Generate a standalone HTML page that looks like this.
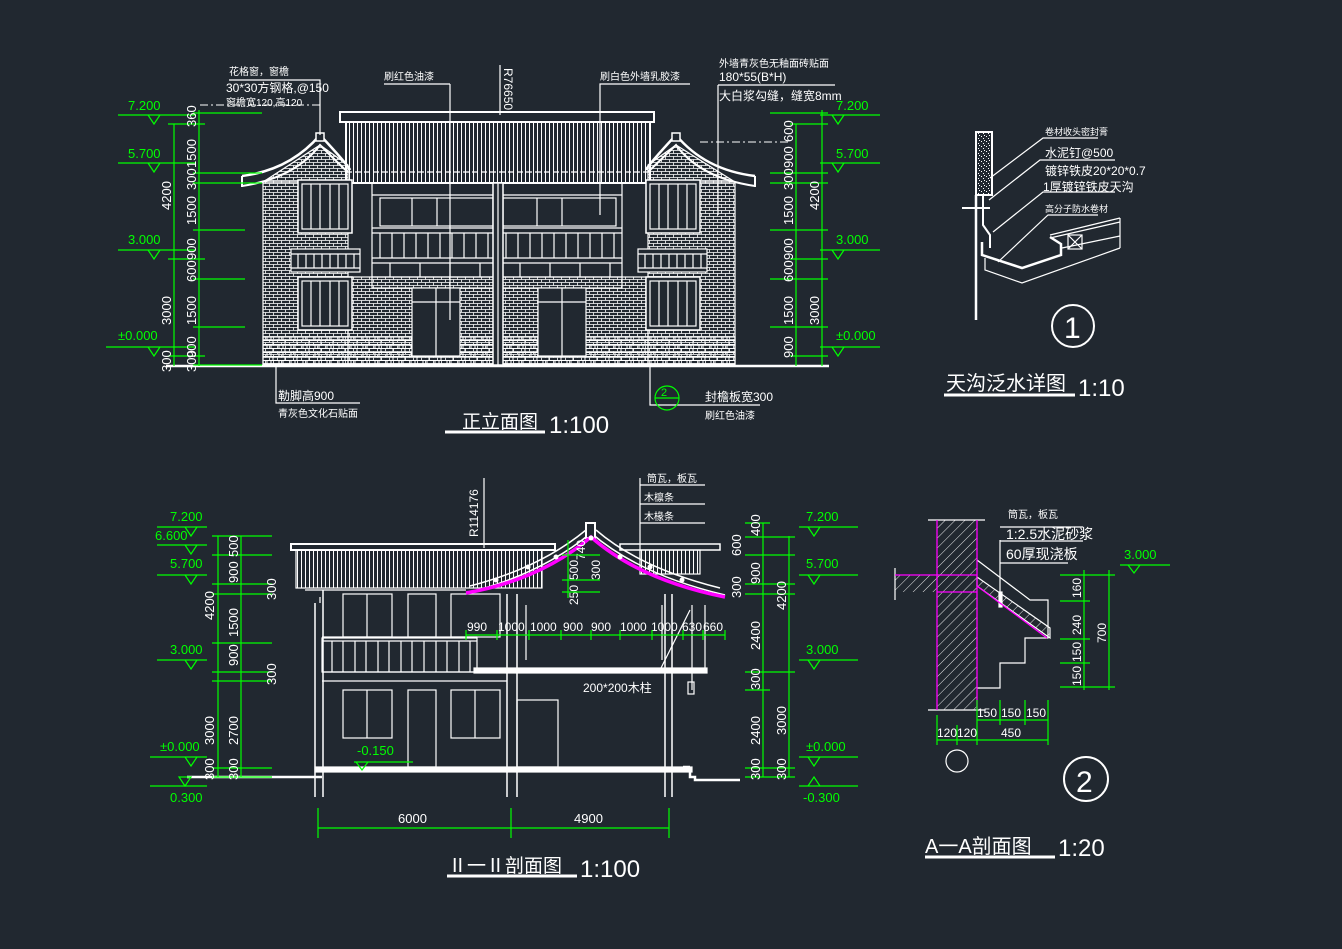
<!DOCTYPE html>
<html><head><meta charset="utf-8"><style>
html,body{margin:0;padding:0;background:#212830;}
svg{display:block}
text{font-family:"Liberation Sans","Noto Sans CJK SC",sans-serif;}
</style></head><body>
<svg width="1342" height="949" viewBox="0 0 1342 949" xmlns="http://www.w3.org/2000/svg">
<defs>
<pattern id="brick" width="8" height="6" patternUnits="userSpaceOnUse">
<path d="M0 0.5H8M0 3.5H8M1.5 0.5V3.5M5.5 3.5V6.5" stroke="#fff" stroke-width="0.8" fill="none"/>
</pattern>
<pattern id="stone" width="12" height="8" patternUnits="userSpaceOnUse">
<path d="M0 0.5H12M0 4.5H12M3 0.5V4.5M9 4.5V8.5M7 0.5V4.5" stroke="#fff" stroke-width="1" fill="none"/>
</pattern>
<pattern id="vstrip" width="4" height="10" patternUnits="userSpaceOnUse">
<path d="M1.5 0V10" stroke="#fff" stroke-width="1"/>
</pattern>
<pattern id="hatch" width="7" height="7" patternUnits="userSpaceOnUse" patternTransform="rotate(45)">
<path d="M0 0V7" stroke="#fff" stroke-width="0.9"/>
</pattern>
<pattern id="speck" width="5" height="5" patternUnits="userSpaceOnUse">
<rect x="1" y="1" width="1" height="1" fill="#fff"/><rect x="3" y="3" width="1" height="1" fill="#fff"/><rect x="4" y="0" width="1" height="1" fill="#fff"/>
</pattern>
</defs>
<rect width="1342" height="949" fill="#212830"/>

<!-- ================= FRONT ELEVATION ================= -->
<g stroke="#fff" fill="none" stroke-width="1.2">
<!-- walls -->
<rect x="263" y="182" width="85" height="183" fill="url(#brick)"/>
<rect x="648" y="182" width="87" height="183" fill="url(#brick)"/>
<polygon points="263,182 320,145 348,165 348,182" fill="url(#brick)"/>
<polygon points="648,165 676,145 735,182 648,182" fill="url(#brick)"/>
<rect x="348" y="277" width="300" height="88" fill="url(#brick)"/>
<rect x="263" y="337" width="472" height="27" fill="url(#stone)"/>
<!-- gable roofs -->
<path d="M242,176 Q290,170 320,135 Q348,165 350,170" stroke-width="2.5"/>
<path d="M242,186 Q295,178 320,145 Q345,170 348,172" stroke-width="2"/>
<path d="M242,176 V187" stroke-width="2"/>
<path d="M755,176 Q705,170 676,135 Q648,165 646,170" stroke-width="2.5"/>
<path d="M755,186 Q700,178 676,145 Q650,170 648,172" stroke-width="2"/>
<path d="M755,176 V187" stroke-width="2"/>
<rect x="316" y="133" width="8" height="8" fill="#212830" stroke-width="1.5"/>
<rect x="672" y="133" width="8" height="8" fill="#212830" stroke-width="1.5"/>
<!-- central block roof -->
<rect x="340" y="112" width="314" height="10" stroke-width="2"/>
<rect x="346" y="122" width="304" height="61" fill="url(#vstrip)" stroke-width="2"/>
<path d="M346,172 H650" stroke-dasharray="6 3"/>
<!-- central facade -->
<rect x="372" y="183" width="250" height="105"/>
<path d="M372,195 H622 M372,228 H622 M372,233 H622 M372,258 H622 M372,263 H622 M372,277 H622" />
<rect x="380" y="198" width="113" height="28"/><rect x="503" y="198" width="113" height="28"/>
<path d="M412,198 V226 M437,198 V226 M537,198 V226 M562,198 V226"/>
<path d="M380,233 V258 M392,233 V258 M404,233 V258 M416,233 V258 M428,233 V258 M440,233 V258 M452,233 V258 M464,233 V258 M476,233 V258 M488,233 V258 M506,233 V258 M518,233 V258 M530,233 V258 M542,233 V258 M554,233 V258 M566,233 V258 M578,233 V258 M590,233 V258 M602,233 V258 M614,233 V258"/>
<path d="M390,263 V277 M420,263 V277 M450,263 V277 M480,263 V277 M520,263 V277 M550,263 V277 M580,263 V277 M610,263 V277"/>
<rect x="493" y="183" width="10" height="182" fill="#212830" stroke-width="1.5"/>
<path d="M498,183 V365"/>
<!-- doors -->
<rect x="412" y="288" width="48" height="68" fill="#212830"/><path d="M436,288 V356 M412,302 H460"/>
<rect x="538" y="288" width="48" height="68" fill="#212830"/><path d="M562,288 V356 M538,302 H586"/>
<!-- side windows -->
<rect x="298" y="180" width="54" height="53" fill="#212830" stroke-width="1.5"/><rect x="302" y="184" width="46" height="45"/>
<path d="M311,184 V229 M320,184 V229 M330,184 V229 M339,184 V229"/>
<rect x="298" y="277" width="54" height="53" fill="#212830" stroke-width="1.5"/><rect x="302" y="281" width="46" height="45"/>
<path d="M311,281 V326 M320,281 V326 M330,281 V326 M339,281 V326"/>
<rect x="291" y="249" width="69" height="23" fill="#212830"/><path d="M291,254 H360 M291,268 H360 M298,254 V268 M306,254 V268 M314,254 V268 M322,254 V268 M330,254 V268 M338,254 V268 M346,254 V268 M354,254 V268"/>
<rect x="646" y="180" width="54" height="53" fill="#212830" stroke-width="1.5"/><rect x="650" y="184" width="46" height="45"/>
<path d="M659,184 V229 M668,184 V229 M678,184 V229 M687,184 V229"/>
<rect x="646" y="277" width="54" height="53" fill="#212830" stroke-width="1.5"/><rect x="650" y="281" width="46" height="45"/>
<path d="M659,281 V326 M668,281 V326 M678,281 V326 M687,281 V326"/>
<rect x="638" y="249" width="69" height="23" fill="#212830"/><path d="M638,254 H707 M638,268 H707 M645,254 V268 M653,254 V268 M661,254 V268 M669,254 V268 M677,254 V268 M685,254 V268 M693,254 V268 M701,254 V268"/>
<!-- ground -->
<path d="M166,366 H829" stroke-width="2.5"/>
<!-- leaders -->
<path d="M229,80 H320 V135 M450,84 H384 M450,84 V320 M500,65 V115 M690,84 H600 V215 M718,85 H835 M718,85 V215 M276,366 V403 H360 M650,366 V405 H760"/>
<path d="M200,105 H320" stroke-dasharray="8 3 2 3" stroke-width="1"/>
<path d="M700,142 H790" stroke-dasharray="8 3 2 3" stroke-width="1"/>
<path d="M445,432 H545" stroke-width="3"/>
</g>
<g fill="#fff" font-size="10">
<text x="229" y="75">花格窗，窗檐</text>
<text x="226" y="92" font-size="12">30*30方钢格,@150</text>
<text x="226" y="106">窗檐宽120,高120</text>
<text x="384" y="80">刷红色油漆</text>
<text x="600" y="80">刷白色外墙乳胶漆</text>
<text x="719" y="67">外墙青灰色无釉面砖贴面</text>
<text x="719" y="81" font-size="12">180*55(B*H)</text>
<text x="719" y="100" font-size="12">大白浆勾缝，缝宽8mm</text>
<text transform="translate(504,68) rotate(90)" font-size="12">R76650</text>
<text x="278" y="400" font-size="12">勒脚高900</text>
<text x="278" y="417">青灰色文化石贴面</text>
<text x="705" y="401" font-size="12">封檐板宽300</text>
<text x="705" y="419">刷红色油漆</text>
<text x="462" y="428" font-size="19">正立面图</text>
<text x="549" y="433" font-size="24">1:100</text>
</g>
<!-- front elevation dims (green) -->
<g stroke="#00ff00" fill="none" stroke-width="1.2">
<path d="M174,124 V366 M199,110 V366 M796,124 V366 M822,110 V366"/>
<path d="M168,124 H205 M168,259 H205 M168,356 H205 M193,113 H262 M193,173 H262 M193,183 H262 M193,230 H245 M193,279 H245 M193,327 H245 M193,365 H262"/>
<path d="M790,124 H828 M790,259 H828 M790,356 H828 M770,113 H828 M770,173 H828 M770,183 H828 M770,230 H828 M770,279 H828 M770,327 H828"/>
<path d="M118,115 H196 M148,115 l6,9 l6,-9 M118,163 H196 M148,163 l6,9 l6,-9 M118,250 H196 M148,250 l6,9 l6,-9 M106,347 H196 M148,347 l6,9 l6,-9"/>
<path d="M820,115 H880 M832,115 l6,9 l6,-9 M820,163 H880 M832,163 l6,9 l6,-9 M820,250 H880 M832,250 l6,9 l6,-9 M820,347 H880 M832,347 l6,9 l6,-9"/>
<circle cx="667" cy="398" r="12"/><path d="M655,398 H679"/>
</g>
<g fill="#00ff00" font-size="13">
<text x="128" y="110">7.200</text><text x="128" y="158">5.700</text><text x="128" y="244">3.000</text><text x="118" y="340">±0.000</text>
<text x="836" y="110">7.200</text><text x="836" y="158">5.700</text><text x="836" y="244">3.000</text><text x="836" y="340">±0.000</text>
<text x="661" y="396" font-size="11">2</text>
</g>
<g fill="#fff" font-size="13">
<text transform="translate(196,127) rotate(-90)">360</text>
<text transform="translate(196,168) rotate(-90)">1500</text>
<text transform="translate(196,190) rotate(-90)">300</text>
<text transform="translate(196,225) rotate(-90)">1500</text>
<text transform="translate(196,260) rotate(-90)">900</text>
<text transform="translate(196,282) rotate(-90)">600</text>
<text transform="translate(196,325) rotate(-90)">1500</text>
<text transform="translate(196,358) rotate(-90)">900</text>
<text transform="translate(196,372) rotate(-90)">300</text>
<text transform="translate(171,210) rotate(-90)">4200</text>
<text transform="translate(171,325) rotate(-90)">3000</text>
<text transform="translate(171,372) rotate(-90)">300</text>
<text transform="translate(793,142) rotate(-90)">600</text>
<text transform="translate(793,168) rotate(-90)">900</text>
<text transform="translate(793,190) rotate(-90)">300</text>
<text transform="translate(793,225) rotate(-90)">1500</text>
<text transform="translate(793,260) rotate(-90)">900</text>
<text transform="translate(793,282) rotate(-90)">600</text>
<text transform="translate(793,325) rotate(-90)">1500</text>
<text transform="translate(793,358) rotate(-90)">900</text>
<text transform="translate(819,210) rotate(-90)">4200</text>
<text transform="translate(819,325) rotate(-90)">3000</text>
</g>

<!-- ================= SECTION II-II ================= -->
<g stroke="#fff" fill="none" stroke-width="1.2">
<rect x="291" y="544" width="264" height="6" stroke-width="2"/>
<rect x="296" y="550" width="246" height="38" fill="url(#vstrip)"/>
<rect x="620" y="544" width="100" height="6" stroke-width="1.5"/>
<rect x="640" y="550" width="60" height="24" fill="url(#vstrip)"/>
<path d="M466,593 Q540,575 591,533 Q640,575 725,595 M470,586 Q540,568 586,530 M596,530 Q640,568 720,588" stroke-width="1.5"/>
<rect x="586" y="523" width="9" height="15" stroke-width="2" fill="#212830"/>
<!-- walls -->
<path d="M315,603 V797 M323,590 V797 M507,594 V797 M517,594 V797 M665,594 V797 M672,594 V797" stroke-width="1.5"/>
<path d="M305,590 H466 M322,637 H477 M322,672 H477 M322,681 H507"/>
<rect x="322" y="638" width="155" height="34"/>
<path d="M322,641 H477 M332,641 V672 M343,641 V672 M355,641 V672 M366,641 V672 M378,641 V672 M389,641 V672 M401,641 V672 M412,641 V672 M424,641 V672 M436,641 V672 M447,641 V672 M459,641 V672 M470,641 V672"/>
<rect x="343" y="594" width="49" height="43"/><path d="M367,594 V637"/>
<rect x="408" y="594" width="28" height="43"/>
<rect x="451" y="594" width="49" height="43"/>
<rect x="343" y="690" width="49" height="48"/><path d="M367,690 V738"/>
<rect x="408" y="690" width="28" height="77"/>
<rect x="451" y="690" width="49" height="48"/><path d="M475,690 V738"/>
<rect x="517" y="700" width="41" height="67"/>
<rect x="474" y="668" width="233" height="5" fill="#fff"/>
<rect x="315" y="767" width="377" height="5" fill="#fff"/>
<path d="M187,777 H322 M690,772 V777 H695 V780 H740 M683,767 H690" stroke-width="2.5"/>
<path d="M320,603 V597 M692,605 V690 M705,605 V670 M526,605 V660 M662,605 V660"/>
<rect x="688" y="682" width="6" height="12"/>
<path d="M484,478 V548 M583,670 H660 L690,610 M640,478 V560 M640,485 H705 M640,504 H705 M640,523 H705"/>
<path d="M447,876 H577" stroke-width="3"/>
</g>
<path d="M466,593 Q540,580 591,537 Q640,580 725,597" stroke="#ff00ff" stroke-width="3.5" fill="none"/>
<g fill="#fff" stroke="none">
<circle cx="496" cy="580" r="2.5"/><circle cx="528" cy="567" r="2.5"/><circle cx="556" cy="557" r="2.5"/><circle cx="591" cy="538" r="2.5"/><circle cx="620" cy="557" r="2.5"/><circle cx="650" cy="567" r="2.5"/><circle cx="682" cy="580" r="2.5"/>
</g>
<g fill="#fff" font-size="10">
<text x="647" y="482">筒瓦，板瓦</text><text x="644" y="501">木檩条</text><text x="644" y="520">木椽条</text>
<text transform="translate(478,537) rotate(-90)" font-size="12">R114176</text>
<text x="583" y="692" font-size="12">200*200木柱</text>
<text x="448" y="872" font-size="19">Ⅱ一Ⅱ剖面图</text>
<text x="580" y="877" font-size="24">1:100</text>
<g font-size="12">
<text x="467" y="631">990</text><text x="498" y="631">1000</text><text x="530" y="631">1000</text><text x="563" y="631">900</text><text x="591" y="631">900</text><text x="620" y="631">1000</text><text x="651" y="631">1000</text><text x="682" y="631">630</text><text x="703" y="631">660</text>
<text transform="translate(578,605) rotate(-90)">250</text>
<text transform="translate(578,580) rotate(-90)">500</text>
<text transform="translate(600,580) rotate(-90)">300</text>
<text transform="translate(585,560) rotate(-90)">740</text>
</g>
</g>
<g stroke="#00ff00" fill="none" stroke-width="1.2">
<path d="M466,635 H725 M466,630 V640 M497,630 V640 M529,630 V640 M561,630 V640 M591,630 V640 M620,630 V640 M652,630 V640 M683,630 V640 M703,630 V640 M725,630 V640"/>
<path d="M568,540 V598 M562,555 H600 M562,580 H600 M562,592 H600"/>
<path d="M218,536 V777 M241,536 V777 M212,536 H272 M212,555 H272 M212,584 H272 M212,594 H272 M212,643 H272 M212,672 H272 M212,681 H272 M212,768 H272 M212,777 H272"/>
<path d="M763,523 V777 M789,536 V777 M745,523 H770 M745,537 H795 M745,555 H795 M745,584 H795 M745,594 H795 M745,672 H795 M745,690 H770 M745,768 H795 M745,777 H795"/>
<path d="M157,527 H207 M185,527 l6,9 l6,-9 M157,545 H207 M185,545 l6,9 l6,-9 M157,575 H207 M185,575 l6,9 l6,-9 M157,660 H207 M185,660 l6,9 l6,-9 M150,757 H207 M185,757 l6,9 l6,-9 M150,786 H207 M185,786 l-6,-9 h12 z"/>
<path d="M799,527 H858 M808,527 l6,9 l6,-9 M799,575 H858 M808,575 l6,9 l6,-9 M799,660 H858 M808,660 l6,9 l6,-9 M799,757 H858 M808,757 l6,9 l6,-9 M799,786 H858 M808,786 l6,-9 l6,9 z"/>
<path d="M354,762 H413 M356,762 l6,8 l6,-8"/>
<path d="M318,828 H669 M318,808 V838 M511,808 V838 M669,808 V838"/>
</g>
<g fill="#00ff00" font-size="13">
<text x="170" y="521">7.200</text><text x="155" y="540">6.600</text><text x="170" y="568">5.700</text><text x="170" y="654">3.000</text><text x="160" y="751">±0.000</text><text x="170" y="802">0.300</text>
<text x="806" y="521">7.200</text><text x="806" y="568">5.700</text><text x="806" y="654">3.000</text><text x="806" y="751">±0.000</text><text x="803" y="802">-0.300</text>
<text x="357" y="755">-0.150</text>
</g>
<g fill="#fff" font-size="13">
<text x="398" y="823">6000</text><text x="574" y="823">4900</text>
<text transform="translate(238,557) rotate(-90)">500</text>
<text transform="translate(238,583) rotate(-90)">900</text>
<text transform="translate(238,637) rotate(-90)">1500</text>
<text transform="translate(238,666) rotate(-90)">900</text>
<text transform="translate(238,745) rotate(-90)">2700</text>
<text transform="translate(238,780) rotate(-90)">300</text>
<text transform="translate(214,620) rotate(-90)">4200</text>
<text transform="translate(214,745) rotate(-90)">3000</text>
<text transform="translate(214,780) rotate(-90)">300</text>
<text transform="translate(276,600) rotate(-90)">300</text>
<text transform="translate(276,685) rotate(-90)">300</text>
<text transform="translate(741,556) rotate(-90)">600</text>
<text transform="translate(741,598) rotate(-90)">300</text>
<text transform="translate(760,536) rotate(-90)">400</text>
<text transform="translate(760,584) rotate(-90)">900</text>
<text transform="translate(760,650) rotate(-90)">2400</text>
<text transform="translate(760,690) rotate(-90)">300</text>
<text transform="translate(760,745) rotate(-90)">2400</text>
<text transform="translate(760,780) rotate(-90)">300</text>
<text transform="translate(786,610) rotate(-90)">4200</text>
<text transform="translate(786,735) rotate(-90)">3000</text>
<text transform="translate(786,780) rotate(-90)">300</text>
</g>

<!-- ================= DETAIL 1 ================= -->
<g stroke="#fff" fill="none" stroke-width="1.2">
<rect x="976" y="132" width="16" height="63" fill="url(#speck)" stroke-width="2"/>
<path d="M976,195 V320" stroke-width="2.5"/>
<path d="M983,195 V225 L990,235 V248" stroke-width="2"/>
<path d="M962,208 H990" stroke-width="2"/>
<path d="M982,242 V255 L1022,268 L1061,255 V244 L1050,237" stroke-width="2.5"/>
<path d="M985,258 V270 L1022,283 L1120,248 M1050,235 L1120,218 M1050,238 L1120,222 M1062,248 L1120,236 M1120,218 V248"/>
<rect x="1068" y="235" width="14" height="14"/><path d="M1068,235 L1082,249 M1082,235 L1068,249"/>
<path d="M990,178 L1043,138 H1098 M989,200 L1040,160 H1115 M993,232 L1043,192 H1115 M998,262 L1048,215 H1098"/>
<circle cx="1073" cy="326" r="21" stroke-width="2"/>
<path d="M944,395 H1075" stroke-width="3"/>
</g>
<g fill="#fff" font-size="9">
<text x="1045" y="135">卷材收头密封膏</text>
<text x="1045" y="157" font-size="12">水泥钉@500</text>
<text x="1045" y="175" font-size="12">镀锌铁皮20*20*0.7</text>
<text x="1043" y="191" font-size="12">1厚镀锌铁皮天沟</text>
<text x="1045" y="212">高分子防水卷材</text>
<text x="1064" y="338" font-size="30">1</text>
<text x="946" y="390" font-size="20">天沟泛水详图</text>
<text x="1078" y="396" font-size="24">1:10</text>
</g>

<!-- ================= DETAIL 2 ================= -->
<g stroke="#fff" fill="none" stroke-width="1.2">
<polygon points="937,520 977,520 977,710 937,710" fill="url(#hatch)" stroke="none"/>
<polygon points="895,575 937,575 937,592 895,592" fill="url(#hatch)" stroke="none"/>
<path d="M928,520 H985 M928,710 H985 M895,568 V600"/>
<polygon points="977,577 1050,628 1050,638 977,586" fill="url(#hatch)" stroke="#fff"/>
<path d="M977,560 L1030,600 H1048 V638 H1025 V663 H1000 V688 H977"/>
<path d="M1000,540 V605 M1000,527 H1083 M1000,541 H1083 M1000,563 H1068"/>
<rect x="999" y="592" width="3" height="15" fill="#fff"/>
<circle cx="957" cy="761" r="11"/>
<circle cx="1086" cy="779" r="22" stroke-width="2"/>
<path d="M925,857 H1055" stroke-width="3"/>
</g>
<g stroke="#ff00ff" fill="none" stroke-width="1.3">
<path d="M937,520 V710 M977,520 V710 M895,575 H977 M937,592 H977 M977,586 L1047,638"/>
</g>
<g stroke="#00ff00" fill="none" stroke-width="1.2">
<path d="M1084,570 V690 M1109,570 V690 M1060,575 H1115 M1060,601 H1090 M1060,639 H1090 M1060,663 H1090 M1060,687 H1115"/>
<path d="M1120,565 H1170 M1128,565 l6,8 l6,-8"/>
<path d="M977,720 H1048 M937,740 H1048 M977,700 V745 M1000,700 V725 M1025,700 V725 M1048,700 V745 M937,715 V745 M957,725 V745"/>
</g>
<g fill="#fff" font-size="10">
<text x="1008" y="518">筒瓦，板瓦</text>
<text x="1006" y="539" font-size="14">1:2.5水泥砂浆</text>
<text x="1006" y="559" font-size="14">60厚现浇板</text>
<g font-size="12">
<text transform="translate(1081,598) rotate(-90)">160</text>
<text transform="translate(1081,635) rotate(-90)">240</text>
<text transform="translate(1081,662) rotate(-90)">150</text>
<text transform="translate(1081,686) rotate(-90)">150</text>
<text transform="translate(1106,643) rotate(-90)">700</text>
<text x="977" y="717">150</text><text x="1001" y="717">150</text><text x="1026" y="717">150</text>
<text x="937" y="737">120</text><text x="957" y="737">120</text><text x="1001" y="737">450</text>
</g>
<text x="1076" y="792" font-size="30">2</text>
<text x="925" y="853" font-size="20">A一A剖面图</text>
<text x="1058" y="856" font-size="24">1:20</text>
</g>
<g fill="#00ff00" font-size="13"><text x="1124" y="559">3.000</text></g>
</svg>
</body></html>
